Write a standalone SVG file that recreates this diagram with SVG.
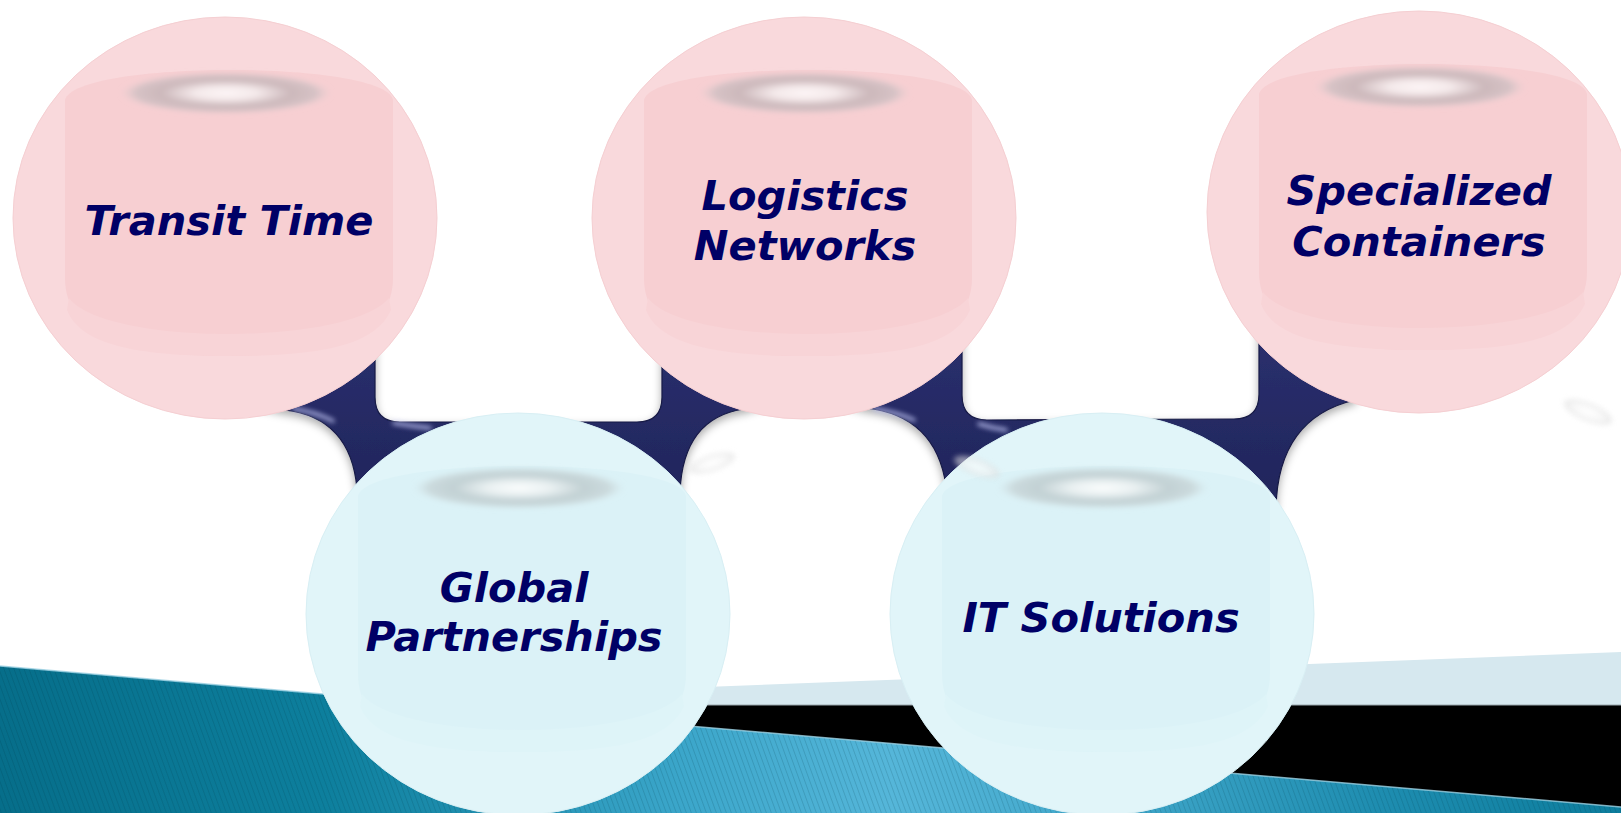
<svg xmlns="http://www.w3.org/2000/svg" width="1621" height="813" viewBox="0 0 1621 813">
  <style>
    .lbl { font-family: "DejaVu Sans", Verdana, sans-serif; font-weight: bold; font-style: italic; font-size: 41.5px; fill: #000066; text-anchor: middle; }
    .pink-rim { fill: #f9d9dc; stroke: #f5cfd2; stroke-width: 1; }
    .pink-body { fill: #f7cfd2; }
    .pink-low { fill: #f8d4d7; }
    .blue-rim { fill: #e1f5f9; stroke: #d8eff4; stroke-width: 1; }
    .blue-body { fill: #dbf2f7; }
    .blue-low { fill: #def4f8; }
  </style>
  <defs>
    <linearGradient id="teal" x1="0" y1="0" x2="1621" y2="0" gradientUnits="userSpaceOnUse">
      <stop offset="0" stop-color="#066e8a"/>
      <stop offset="0.2" stop-color="#0d7f9d"/>
      <stop offset="0.42" stop-color="#3ba6ca"/>
      <stop offset="0.55" stop-color="#55b6d9"/>
      <stop offset="0.7" stop-color="#3ea5c8"/>
      <stop offset="0.85" stop-color="#1e8db0"/>
      <stop offset="1" stop-color="#0d7d9d"/>
    </linearGradient>
    <pattern id="stripes" width="5" height="10" patternUnits="userSpaceOnUse" patternTransform="skewX(20)">
      <line x1="0.5" y1="0" x2="0.5" y2="10" stroke="#003040" stroke-opacity="0.16" stroke-width="1"/>
    </pattern>
    <linearGradient id="navy" x1="0" y1="330" x2="0" y2="510" gradientUnits="userSpaceOnUse">
      <stop offset="0" stop-color="#2b306e"/>
      <stop offset="0.5" stop-color="#252a64"/>
      <stop offset="1" stop-color="#20255a"/>
    </linearGradient>
    <radialGradient id="hlPink">
      <stop offset="0" stop-color="#fdf6f7"/>
      <stop offset="0.3" stop-color="#f4e9ea"/>
      <stop offset="0.62" stop-color="#ccb8bb"/>
      <stop offset="0.85" stop-color="#d6c2c5"/>
      <stop offset="1" stop-color="#e6cfd2" stop-opacity="0"/>
    </radialGradient>
    <radialGradient id="hlBlue">
      <stop offset="0" stop-color="#fbfdfd"/>
      <stop offset="0.3" stop-color="#eaf1f2"/>
      <stop offset="0.62" stop-color="#c2d1d4"/>
      <stop offset="0.85" stop-color="#cbdadd"/>
      <stop offset="1" stop-color="#d5e6e9" stop-opacity="0"/>
    </radialGradient>
    <radialGradient id="ghost">
      <stop offset="0" stop-color="#ffffff"/>
      <stop offset="0.5" stop-color="#f4f4f4"/>
      <stop offset="0.85" stop-color="#dcdcdc"/>
      <stop offset="1" stop-color="#e6e6e6" stop-opacity="0"/>
    </radialGradient>
    <filter id="soft" x="-20%" y="-50%" width="140%" height="200%">
      <feGaussianBlur stdDeviation="2.5"/>
    </filter>
    <filter id="shadow" x="-10%" y="-20%" width="120%" height="160%">
      <feDropShadow dx="0" dy="4" stdDeviation="4" flood-color="#000000" flood-opacity="0.33"/>
    </filter>
    <path id="body" d="M -160,-118 C -150,-158 160,-158 168,-118 L 168,60 C 168,120 95,138 2,138 C -90,138 -160,120 -160,60 Z"/>
    <path id="low" d="M -156,80 C -120,128 125,128 164,80 L 166,92 C 150,128 95,138 2,138 C -90,138 -145,126 -158,92 Z"/>
  </defs>

  <!-- background -->
  <g id="background">
    <rect x="0" y="0" width="1621" height="813" fill="#ffffff"/>
    <polygon points="0,714 1621,652 1621,813 0,813" fill="#d6e8ef"/>
    <rect x="0" y="705" width="1621" height="108" fill="#000000"/>
    <line x1="0" y1="705" x2="1621" y2="705" stroke="#9aa8ad" stroke-width="1"/>
    <polygon points="0,666 1621,807 1621,813 0,813" fill="url(#teal)"/>
    <polygon points="0,666 1621,807 1621,813 0,813" fill="url(#stripes)"/>
    <line x1="0" y1="666" x2="1621" y2="807" stroke="#9fd2e4" stroke-width="1.5" stroke-opacity="0.8"/>
  </g>

  <!-- connectors -->
  <g id="connectors">
    <path filter="url(#shadow)" fill="url(#navy)" stroke="#171a45" stroke-width="1.2"
      d="M 330,380 L 375,338 L 375,397 Q 375,422 400,422 L 637,422 Q 662,422 662,397 L 662,330 L 962,330 L 962,395 Q 962,420 987,420 L 1234,419 Q 1259,419 1259,394 L 1259,330 L 1360,360 L 1355,400 Q 1278,418 1276,508 L 1100,520 L 946,486 Q 936,416 866,408 L 804,390 L 744,409 Q 683,418 680,492 L 518,470 L 357,489 Q 351,418 285,410 L 240,400 L 250,360 Z"/>
    <g stroke="#c0c5f4" stroke-linecap="round" fill="none" filter="url(#soft)" opacity="0.9">
      <path d="M 294,409 Q 315,412 333,421" stroke-width="3.5"/>
      <path d="M 394,423 Q 412,426 430,428" stroke-width="3.5"/>
      <path d="M 874,409 Q 895,412 914,420" stroke-width="3.5"/>
      <path d="M 979,424 Q 992,428 1006,430" stroke-width="3.5"/>
    </g>
  </g>

  <!-- nodes -->
  <g id="node-transit-time">
    <ellipse class="pink-rim" cx="225" cy="218" rx="212" ry="201"/>
    <use href="#body" class="pink-body" transform="translate(225,218)"/>
    <use href="#low" class="pink-low" transform="translate(225,218)"/>
    <ellipse cx="226" cy="93" rx="106" ry="21" fill="url(#hlPink)" filter="url(#soft)"/>
    <text class="lbl" x="229" y="235">Transit Time</text>
  </g>

  <g id="node-logistics-networks">
    <ellipse class="pink-rim" cx="804" cy="218" rx="212" ry="201"/>
    <use href="#body" class="pink-body" transform="translate(804,218)"/>
    <use href="#low" class="pink-low" transform="translate(804,218)"/>
    <ellipse cx="805" cy="93" rx="106" ry="21" fill="url(#hlPink)" filter="url(#soft)"/>
    <text class="lbl" x="805" y="210">Logistics</text>
    <text class="lbl" x="805" y="260">Networks</text>
  </g>

  <g id="node-specialized-containers">
    <ellipse class="pink-rim" cx="1419" cy="212" rx="212" ry="201"/>
    <use href="#body" class="pink-body" transform="translate(1419,212)"/>
    <use href="#low" class="pink-low" transform="translate(1419,212)"/>
    <ellipse cx="1420" cy="87" rx="106" ry="21" fill="url(#hlPink)" filter="url(#soft)"/>
    <text class="lbl" x="1419" y="205">Specialized</text>
    <text class="lbl" x="1419" y="256">Containers</text>
  </g>

  <g id="node-global-partnerships">
    <ellipse class="blue-rim" cx="518" cy="614" rx="212" ry="201"/>
    <use href="#body" class="blue-body" transform="translate(518,614)"/>
    <use href="#low" class="blue-low" transform="translate(518,614)"/>
    <ellipse cx="519" cy="488" rx="106" ry="21" fill="url(#hlBlue)" filter="url(#soft)"/>
    <text class="lbl" x="514" y="602">Global</text>
    <text class="lbl" x="514" y="651">Partnerships</text>
  </g>

  <g id="node-it-solutions">
    <ellipse class="blue-rim" cx="1102" cy="614" rx="212" ry="201"/>
    <use href="#body" class="blue-body" transform="translate(1102,614)"/>
    <use href="#low" class="blue-low" transform="translate(1102,614)"/>
    <ellipse cx="1103" cy="488" rx="106" ry="21" fill="url(#hlBlue)" filter="url(#soft)"/>
    <text class="lbl" x="1101" y="632">IT Solutions</text>
  </g>

  <!-- faint reflections -->
  <g id="reflections" opacity="0.55">
    <ellipse cx="712" cy="463" rx="26" ry="9" transform="rotate(-18 712 463)" fill="url(#ghost)" filter="url(#soft)"/>
    <ellipse cx="977" cy="467" rx="26" ry="9" transform="rotate(20 977 467)" fill="url(#ghost)" filter="url(#soft)"/>
    <ellipse cx="1588" cy="412" rx="28" ry="10" transform="rotate(22 1588 412)" fill="url(#ghost)" filter="url(#soft)"/>
  </g>
</svg>
